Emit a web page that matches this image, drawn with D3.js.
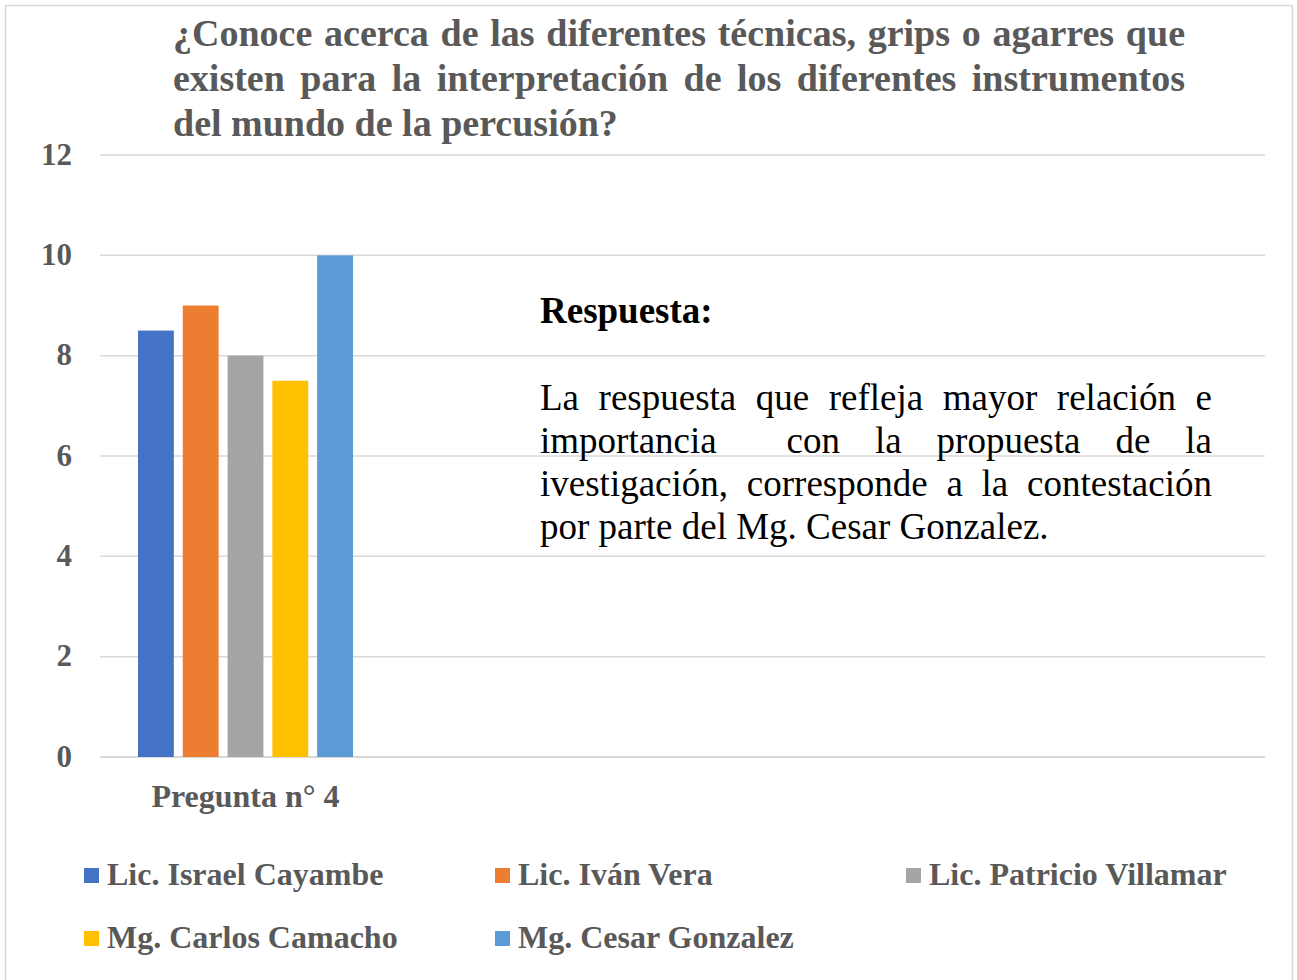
<!DOCTYPE html>
<html lang="es">
<head>
<meta charset="UTF-8">
<title>Pregunta 4</title>
<style>
  body { margin: 0; background: #fff; }
  svg text { font-family: "Liberation Serif", "Times New Roman", serif; }
</style>
</head>
<body>
<script src="https://d3js.org/d3.v7.min.js"></script>
<script>
    // Data
    const categories = ["Pregunta n° 4"];
    const seriesNames = ["Lic. Israel Cayambe", "Lic. Iván Vera", "Lic. Patricio Villamar",
        "Mg. Carlos Camacho", "Mg. Cesar Gonzalez"];
    const seriesValues = [8.5, 9, 8, 7.5, 10];
    const seriesColors = ["#4472c4", "#ed7d31", "#a5a5a5", "#ffc000", "#5b9bd5"];
    const yTicks = [0, 2, 4, 6, 8, 10, 12];
    const titleLines = ["¿Conoce acerca de las diferentes técnicas, grips o agarres que",
        "existen para la interpretación de los diferentes instrumentos",
        "del mundo de la percusión?"];
    const noteTitle = "Respuesta:";
    const noteLines = ["La respuesta que refleja mayor relación e",
        "importancia  con la propuesta de la",
        "ivestigación, corresponde a la contestación",
        "por parte del Mg. Cesar Gonzalez."];

    const W = 1297, H = 980;
    const svg = d3.select("body").append("svg")
        .attr("width", W).attr("height", H);

    // chart border
    svg.append("rect")
        .attr("x", 5.5).attr("y", 5.5)
        .attr("width", 1287).attr("height", 990)
        .attr("fill", "#fff").attr("stroke", "#d9d9d9").attr("stroke-width", 1.5);

    // Scales
    const plotLeft = 100, plotRight = 1265;
    const y = d3.scaleLinear().domain([0, 12]).range([757, 155]);
    const x0 = d3.scaleBand().domain(categories).range([100, 391]).paddingOuter(0.1767);
    const x1 = d3.scaleBand().domain(seriesNames).range([0, x0.bandwidth()]).paddingInner(0.2);

    // gridlines
    svg.append("g")
        .selectAll("line")
        .data(yTicks)
        .join("line")
        .attr("x1", plotLeft).attr("x2", plotRight)
        .attr("y1", d => y(d)).attr("y2", d => y(d))
        .attr("stroke", "#d9d9d9").attr("stroke-width", d => d === 0 ? 2 : 1.5);

    // y axis labels
    const yAxis = svg.append("g")
        .attr("transform", "translate(" + plotLeft + ",0)")
        .call(d3.axisLeft(y).tickValues(yTicks).tickSize(0).tickPadding(28));
    yAxis.select(".domain").remove();
    yAxis.attr("font-family", null);
    yAxis.selectAll("text")
        .style("font-family", "'Liberation Serif', serif")
        .attr("font-size", 31).attr("font-weight", "bold").attr("fill", "#595959")
        .attr("dy", "0.3em");

    // bars
    svg.append("g")
        .selectAll("g")
        .data(categories)
        .join("g")
        .attr("transform", d => "translate(" + x0(d) + ",0)")
        .selectAll("rect")
        .data(seriesNames.map((n, i) => ({ name: n, value: seriesValues[i], color: seriesColors[i] })))
        .join("rect")
        .attr("x", d => x1(d.name))
        .attr("y", d => y(d.value))
        .attr("width", x1.bandwidth())
        .attr("height", d => y(0) - y(d.value))
        .attr("fill", d => d.color);

    // x axis labels
    const xAxis = svg.append("g")
        .attr("transform", "translate(0," + y(0) + ")")
        .call(d3.axisBottom(x0).tickSize(0).tickPadding(27));
    xAxis.select(".domain").remove();
    xAxis.attr("font-family", null);
    xAxis.selectAll("text")
        .style("font-family", "'Liberation Serif', serif")
        .attr("font-size", 32).attr("font-weight", "bold").attr("fill", "#595959");

    // justified text helper
    function justifyLine(g, str, x, yPos, width, justify, attrs) {
        const words = str.split(" ");
        const t = g.append("text").attr("y", yPos);
        Object.keys(attrs).forEach(k => t.attr(k, attrs[k]));
        if (!justify) {
            t.attr("x", x).text(str);
            return;
        }
        const spans = words.map(w => t.append("tspan").text(w));
        const widths = spans.map(s => s.node().getComputedTextLength());
        const total = d3.sum(widths);
        const gap = (width - total) / (words.length - 1);
        let cx = x;
        spans.forEach((s, i) => {
            s.attr("x", cx);
            cx += widths[i] + gap;
        });
    }

    // title
    const titleG = svg.append("g");
    titleLines.forEach((line, i) => {
        justifyLine(titleG, line, 173, 46 + i * 45, 1012, i < 2, {
            "font-size": 38, "font-weight": "bold", "fill": "#595959"
        });
    });

    // answer note
    const noteG = svg.append("g");
    noteG.append("text")
        .attr("x", 540).attr("y", 323)
        .attr("font-size", 37).attr("font-weight", "bold").attr("fill", "#000")
        .text(noteTitle);
    noteLines.forEach((line, i) => {
        justifyLine(noteG, line, 540, 410 + i * 43, 672, i < 3, {
            "font-size": 37, "fill": "#000"
        });
    });

    // legend
    const legend = svg.append("g");
    const legendItems = legend.selectAll("g")
        .data(seriesNames)
        .join("g")
        .attr("transform", (d, i) => "translate(" + (84 + (i % 3) * 411) + "," + (868 + Math.floor(i / 3) * 63) + ")");
    legendItems.append("rect")
        .attr("width", 15).attr("height", 15)
        .attr("fill", (d, i) => seriesColors[i]);
    legendItems.append("text")
        .attr("x", 23).attr("y", 17)
        .attr("font-size", 32).attr("font-weight", "bold").attr("fill", "#595959")
        .text(d => d);
</script>
</body>
</html>
